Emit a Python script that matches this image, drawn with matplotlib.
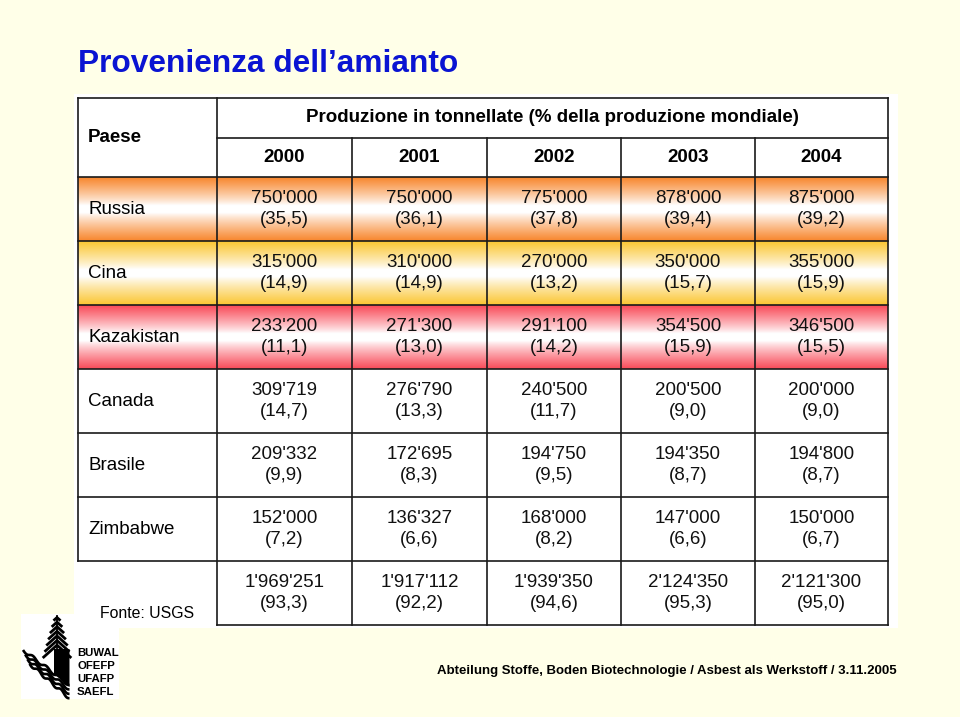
import numpy as np
import matplotlib as mpl
mpl.use('Agg')
import matplotlib.pyplot as plt
from matplotlib.patches import Rectangle, Polygon

plt.rcParams['font.family'] = ['Liberation Sans', 'DejaVu Sans']

# --- dati (USGS) ---
countries = ['Russia', 'Cina', 'Kazakistan', 'Canada', 'Brasile', 'Zimbabwe']
years = ['2000', '2001', '2002', '2003', '2004']
tonnes = [
    [750000, 750000, 775000, 878000, 875000],
    [315000, 310000, 270000, 350000, 355000],
    [233200, 271300, 291100, 354500, 346500],
    [309719, 276790, 240500, 200500, 200000],
    [209332, 172695, 194750, 194350, 194800],
    [152000, 136327, 168000, 147000, 150000],
]
shares = [
    [35.5, 36.1, 37.8, 39.4, 39.2],
    [14.9, 14.9, 13.2, 15.7, 15.9],
    [11.1, 13.0, 14.2, 15.9, 15.5],
    [14.7, 13.3, 11.7, 9.0, 9.0],
    [9.9, 8.3, 9.5, 8.7, 8.7],
    [7.2, 6.6, 8.2, 6.6, 6.7],
]
totals = [1969251, 1917112, 1939350, 2124350, 2121300]
total_shares = [93.3, 92.2, 94.6, 95.3, 95.0]

row_colors = ['#F8862C', '#FBC632', '#F94A58', None, None, None]


def fmt_t(v):
    return '{:,}'.format(v).replace(',', "'")


def fmt_s(s):
    return '({:.1f})'.format(s).replace('.', ',')


def gradient(ax, x0, x1, y0, y1, color):
    n = 200
    t = np.linspace(0, 1, n)
    w = np.clip((np.abs(2 * t - 1) - 0.12) / 0.88, 0, 1) ** 0.85
    c = np.array(mpl.colors.to_rgb(color))
    img = (1 - w[:, None]) * 1.0 + w[:, None] * c[None, :]
    ax.imshow(img[:, None, :], extent=(x0, x1, y1, y0), origin='upper',
              aspect='auto', interpolation='bilinear', zorder=1)


W, H = 960, 717
fig = plt.figure(figsize=(W / 100, H / 100), dpi=100)
fig.patch.set_facecolor('#FFFFE8')
ax = fig.add_axes([0, 0, 1, 1])
ax.set_facecolor('#FFFFE8')

# layout (pixel)
col_x = [78, 217, 352, 487, 621, 755, 888]
head_y = [98, 138, 177]
row_h = 64
body_y = [head_y[2] + i * row_h for i in range(len(countries) + 2)]
lw = 1.2
fs = 13.5

# sfondo bianco dietro la tabella
ax.add_patch(Rectangle((74, 94), 824, 534, facecolor='white', edgecolor='none', zorder=0))
ax.add_patch(Rectangle((21, 614), 98, 85, facecolor='white', edgecolor='none', zorder=0))

# titolo
ax.text(78, 64, 'Provenienza dell\u2019amianto', fontsize=22.8, fontweight='bold',
        color='#0A14D2', ha='left', va='center', zorder=3)

# intestazione
ax.text(88, (head_y[0] + head_y[2]) / 2, 'Paese', fontsize=fs, fontweight='bold',
        ha='left', va='center', zorder=3)
ax.text((col_x[1] + col_x[-1]) / 2, (head_y[0] + head_y[1]) / 2,
        'Produzione in tonnellate (% della produzione mondiale)',
        fontsize=fs, fontweight='bold', ha='center', va='center', zorder=3)
for j, yr in enumerate(years):
    ax.text((col_x[j + 1] + col_x[j + 2]) / 2, (head_y[1] + head_y[2]) / 2, yr,
            fontsize=fs, fontweight='bold', ha='center', va='center', zorder=3)

# righe paesi
for i, name in enumerate(countries):
    y0, y1 = body_y[i], body_y[i + 1]
    yc = (y0 + y1) / 2
    if row_colors[i]:
        gradient(ax, col_x[0], col_x[-1], y0, y1, row_colors[i])
    ax.text(88, yc, name, fontsize=fs, ha='left', va='center', zorder=3)
    for j in range(len(years)):
        xc = (col_x[j + 1] + col_x[j + 2]) / 2
        ax.text(xc, yc - 10.5, fmt_t(tonnes[i][j]), fontsize=fs, ha='center',
                va='center', color='#111111', zorder=3)
        ax.text(xc, yc + 10.5, fmt_s(shares[i][j]), fontsize=fs, ha='center',
                va='center', color='#111111', zorder=3)

# riga totale
yt0, yt1 = body_y[len(countries)], body_y[len(countries) + 1]
ytc = (yt0 + yt1) / 2
for j in range(len(years)):
    xc = (col_x[j + 1] + col_x[j + 2]) / 2
    ax.text(xc, ytc - 10.5, fmt_t(totals[j]), fontsize=fs, ha='center',
            va='center', color='#111111', zorder=3)
    ax.text(xc, ytc + 10.5, fmt_s(total_shares[j]), fontsize=fs, ha='center',
            va='center', color='#111111', zorder=3)
ax.text(100, 613, 'Fonte: USGS', fontsize=11.4, ha='left', va='center', zorder=3)

# linee tabella
k = dict(color='#1a1a1a', lw=lw, zorder=4, solid_capstyle='projecting')
ax.plot([col_x[0], col_x[-1]], [head_y[0]] * 2, **k)
ax.plot([col_x[1], col_x[-1]], [head_y[1]] * 2, **k)
for y in [head_y[2]] + body_y[1:len(countries) + 1]:
    ax.plot([col_x[0], col_x[-1]], [y, y], **k)
ax.plot([col_x[1], col_x[-1]], [yt1, yt1], **k)
ax.plot([col_x[0]] * 2, [head_y[0], yt0], **k)
ax.plot([col_x[1]] * 2, [head_y[0], yt1], **k)
for x in col_x[2:-1]:
    ax.plot([x, x], [head_y[1], yt1], **k)
ax.plot([col_x[-1]] * 2, [head_y[0], yt1], **k)

# logo BUWAL (schizzo)
ax.plot([57, 57], [616, 662], color='k', lw=1.3, zorder=3)
for n_, y in enumerate(np.arange(617.5, 646, 4.6)):
    hw = 3.5 + n_ * 1.8
    ax.plot([57 - hw, 57, 57 + hw], [y + hw * 0.9, y, y + hw * 0.9], color='k',
            lw=2.0, zorder=3, solid_joinstyle='miter', solid_capstyle='butt')
ax.add_patch(Polygon([(54, 649), (69.5, 649), (69.5, 687), (54, 674)], closed=True,
                     facecolor='k', edgecolor='none', zorder=3))
s = np.linspace(0, 1, 80)
for m in range(4):
    xa, ya = 23 + 2.2 * m, 650 + 4.6 * m
    xb, yb = 69.5, 685 + 4.4 * m
    xs = xa + s * (xb - xa)
    ys = ya + s * (yb - ya) + 1.6 * np.sin(s * 2 * np.pi * 3.5)
    ax.plot(xs, ys, color='k', lw=1.9, zorder=3, solid_capstyle='butt')
for n_, word in enumerate(['BUWAL', 'OFEFP', 'UFAFP', 'SAEFL']):
    ax.text(77, 653.5 + n_ * 12.8, word, fontsize=8.2, fontweight='bold', ha='left',
            va='center', zorder=3)

# piè di pagina
ax.text(897, 671, 'Abteilung Stoffe, Boden Biotechnologie / Asbest als Werkstoff / 3.11.2005',
        fontsize=9.5, fontweight='bold', ha='right', va='center', zorder=3)

ax.set_xlim(0, W)
ax.set_ylim(H, 0)
ax.axis('off')
fig.savefig('out.png', dpi=100, facecolor=fig.get_facecolor())
